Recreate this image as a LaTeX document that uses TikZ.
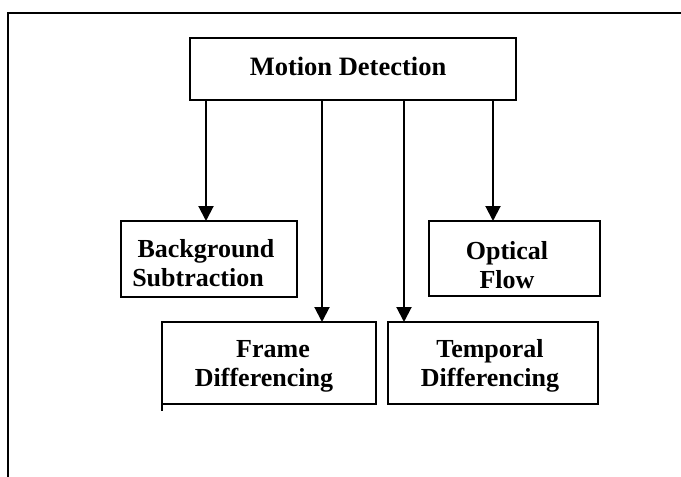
\documentclass[tikz,border=0pt]{standalone}
\usepackage{fontspec}
\setmainfont{Liberation Serif}
\usetikzlibrary{arrows.meta}
\tikzset{
  box/.style={draw, line width=1.6pt, inner sep=0pt, outer sep=0pt},
  lbl/.style={font=\bfseries\fontsize{26}{29}\selectfont, align=center, inner sep=0pt},
  arr/.style={line width=2pt, -{Triangle[length=15pt,width=15pt]}},
  frameline/.style={line width=2pt}
}
\begin{document}
\begin{tikzpicture}[x=1pt,y=-1pt]
\useasboundingbox (0,0) rectangle (681,477);
% outer frame (top and left edges only)
\draw[frameline] (8,477) -- (8,13) -- (681,13);
% boxes
\node[box, minimum width=326pt, minimum height=62pt] (md) at (353,69) {};
\node[box, minimum width=176pt, minimum height=76pt] (bg) at (209,259) {};
\node[box, minimum width=171pt, minimum height=75pt] (of) at (514.5,258.5) {};
\node[box, minimum width=214pt, minimum height=82pt] (fd) at (269,363) {};
\node[box, minimum width=210pt, minimum height=82pt] (td) at (493,363) {};
\draw[line width=1.6pt] (fd.south west) -- ++(0,7);
% labels
\node[lbl, font=\bfseries\fontsize{26.5}{30}\selectfont] (mdt) at (348,66) {Motion Detection};
\node[lbl] (bgt) at (198,263) {\hspace*{16pt}Background\\Subtraction};
\node[lbl] (oft) at (507,265) {Optical\\Flow};
\node[lbl] (fdt) at (264,366.5) {\hspace*{18pt}Frame\\Differencing};
\node[lbl] (tdt) at (490,366) {Temporal\\Differencing};
% arrow positions
\coordinate (x1) at (206,0);
\coordinate (x2) at (322,0);
\coordinate (x3) at (404,0);
\coordinate (x4) at (493,0);
\draw[arr] (md.south -| x1) -- (bg.north -| x1);
\draw[arr] (md.south -| x2) -- (fd.north -| x2);
\draw[arr] (md.south -| x3) -- (td.north -| x3);
\draw[arr] (md.south -| x4) -- (of.north -| x4);
\end{tikzpicture}
\end{document}
